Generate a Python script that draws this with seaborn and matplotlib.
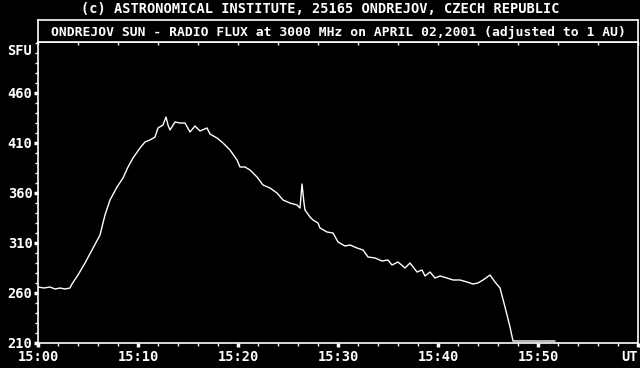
import matplotlib
matplotlib.use("Agg")
import matplotlib.pyplot as plt
import seaborn as sns
import pandas as pd

# minutes after 15:00 UT
minutes = [0.0, 0.6, 1.2, 1.7, 2.2, 2.7, 3.2, 3.4, 4.0, 4.7, 5.4, 6.2, 6.7, 7.2, 7.9,
           8.5, 9.0, 9.5, 10.2, 10.7, 11.2, 11.7, 12.0, 12.5, 12.8, 13.0, 13.2, 13.7,
           14.2, 14.7, 15.2, 15.7, 16.2, 16.9, 17.2, 17.9, 18.5, 19.2, 19.9, 20.2,
           20.7, 21.2, 21.9, 22.5, 23.2, 23.9, 24.5, 25.2, 25.9, 26.2, 26.4, 26.6,
           26.7, 27.2, 27.5, 28.0, 28.2, 28.9, 29.5, 30.0, 30.7, 31.2, 31.9, 32.5,
           33.0, 33.7, 34.4, 35.0, 35.4, 36.0, 36.7, 37.2, 37.9, 38.4, 38.7, 39.2,
           39.7, 40.2, 40.9, 41.5, 42.2, 42.9, 43.5, 44.0, 44.5, 45.2, 45.7, 46.2,
           46.7, 47.2, 47.5, 48.2, 51.7]
flux_sfu = [266, 265, 266, 264, 265, 264, 265, 269, 278, 290, 303, 318, 338, 353, 366,
            375, 386, 395, 405, 411, 413, 416, 425, 428, 436, 428, 423, 431,
            430, 430, 421, 427, 422, 425, 419, 415, 410, 403, 393, 386,
            386, 383, 376, 368, 365, 360, 353, 350, 348, 345, 369, 350,
            343, 336, 333, 330, 325, 321, 320, 311, 307, 308, 305, 303,
            296, 295, 292, 293, 288, 291, 285, 290, 281, 283, 277, 281,
            275, 277, 275, 273, 273, 271, 269, 270, 273, 278, 271, 265,
            246, 226, 212, 212, 212]

y_ticks = [210, 260, 310, 360, 410, 460]
x_ticks = [0, 10, 20, 30, 40, 50, 60]
x_labels = ["15:00", "15:10", "15:20", "15:30", "15:40", "15:50", ""]

header = "(c) ASTRONOMICAL INSTITUTE, 25165 ONDREJOV, CZECH REPUBLIC"
title = "ONDREJOV SUN - RADIO FLUX at 3000 MHz on APRIL 02,2001 (adjusted to 1 AU)"

df = pd.DataFrame({"minutes": minutes, "flux": flux_sfu})

sns.set_theme(style="dark")
plt.rcParams["font.family"] = ["DejaVu Sans Mono"]
plt.rcParams["font.weight"] = "bold"

W, H = 640, 368
fig = plt.figure(figsize=(6.4, 3.68), dpi=100, facecolor="black")
ax = fig.add_axes([38 / W, (H - 343) / H, 600 / W, (343 - 42) / H])
tax = fig.add_axes([38 / W, (H - 42) / H, 600 / W, 22 / H])

for a in (ax, tax):
    a.set_facecolor("black")
    for s in a.spines.values():
        s.set_color("white")
        s.set_linewidth(1.2)
        s.set_visible(True)

sns.lineplot(data=df, x="minutes", y="flux", ax=ax, color="white", linewidth=1.0)

ax.set_xlim(0, 60)
ax.set_ylim(210, 511)
ax.set_xlabel("")
ax.set_ylabel("")
ax.set_xticks(x_ticks)
ax.set_xticklabels(x_labels)
ax.set_xticks(list(range(0, 61, 2)), minor=True)
ax.set_yticks(y_ticks)
ax.set_yticklabels([str(v) for v in y_ticks])
ax.set_yticks(list(range(210, 511, 10)), minor=True)
ax.grid(False)

ax.tick_params(axis="both", which="major", colors="white", labelcolor="white",
               labelsize=9.8, direction="out", length=3, width=2.5, pad=1,
               bottom=True, left=True)
ax.tick_params(axis="both", which="minor", colors="white", direction="out",
               length=2, width=1, bottom=True, left=True)
ax.tick_params(axis="x", which="major", pad=2)

ax.text(-0.01, 502, "SFU", transform=ax.get_yaxis_transform(), ha="right",
        va="center", color="white", fontsize=9.8, fontweight="bold")
ax.text(1.0, -0.047, "UT", transform=ax.transAxes, ha="right", va="center",
        color="white", fontsize=9.8, fontweight="bold")

# header box; its bottom edge carries small ticks pointing into the plot
tax.set_xlim(0, 60)
tax.set_xticks([])
tax.set_xticks(list(range(0, 61, 4)), minor=True)
tax.set_yticks([])
tax.tick_params(axis="x", which="minor", bottom=True, direction="out",
                length=2, width=1, colors="white", labelbottom=False)
tax.text(0.5, 0.45, title, transform=tax.transAxes, ha="center", va="center",
         color="white", fontsize=9.4, fontweight="bold")

fig.text(320 / W, 1 - 9 / H, header, ha="center", va="center", color="white",
         fontsize=9.8, fontweight="bold")

fig.savefig("out.png", dpi=100, facecolor="black")
